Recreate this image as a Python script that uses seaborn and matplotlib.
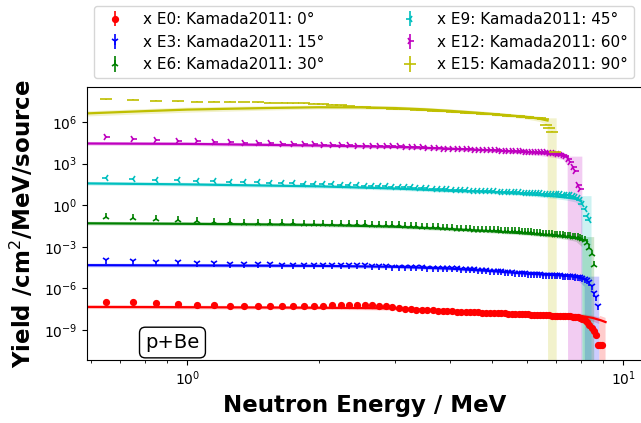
import numpy as np
import matplotlib
matplotlib.use("Agg")
import matplotlib.pyplot as plt
from matplotlib.ticker import NullLocator, NullFormatter
import seaborn as sns

# Kamada2011 p+Be measurement: energy bin centres (MeV), shared by all angles
E_EXP = [0.65, 0.75, 0.85, 0.95, 1.05, 1.15, 1.25, 1.35, 1.45, 1.55,
         1.65, 1.75, 1.85, 1.95, 2.05, 2.15, 2.25, 2.35, 2.45, 2.55,
         2.65, 2.75, 2.85, 2.95, 3.05, 3.15, 3.25, 3.35, 3.45, 3.55,
         3.65, 3.75, 3.85, 3.95, 4.05, 4.15, 4.25, 4.35, 4.45, 4.55,
         4.65, 4.75, 4.85, 4.95, 5.05, 5.15, 5.25, 5.35, 5.45, 5.55,
         5.65, 5.75, 5.85, 5.95, 6.05, 6.15, 6.25, 6.35, 6.45, 6.55,
         6.65, 6.75, 6.85, 6.95, 7.05, 7.15, 7.25, 7.35, 7.45, 7.55,
         7.65, 7.75, 7.85, 7.95, 8.05, 8.15, 8.25, 8.35, 8.45, 8.55,
         8.65, 8.75, 8.85, 8.95]

# log10 of the plotted yield (scale factor x E.. already applied)
EXP_0 = [-6.98, -6.97, -7.05, -7.12, -7.18, -7.22, -7.25, -7.27, -7.28, -7.28,
         -7.27, -7.26, -7.25, -7.24, -7.23, -7.22, -7.21, -7.20, -7.20, -7.20,
         -7.21, -7.23, -7.27, -7.33, -7.40, -7.46, -7.50, -7.52, -7.54, -7.56,
         -7.58, -7.60, -7.62, -7.64, -7.65, -7.67, -7.68, -7.70, -7.71, -7.72,
         -7.73, -7.74, -7.75, -7.76, -7.77, -7.78, -7.79, -7.80, -7.81, -7.82,
         -7.83, -7.84, -7.85, -7.86, -7.87, -7.88, -7.89, -7.90, -7.91, -7.92,
         -7.93, -7.94, -7.95, -7.96, -7.97, -7.98, -7.99, -8.00, -8.01, -8.02,
         -8.03, -8.05, -8.08, -8.13, -8.20, -8.30, -8.45, -8.63, -8.85, -9.10,
         -9.35, -10.05, -10.10, -10.05]
EXP_3 = [-3.96, -4.00, -4.07, -4.10, -4.15, -4.19, -4.22, -4.24, -4.26, -4.27,
         -4.28, -4.29, -4.30, -4.30, -4.31, -4.31, -4.32, -4.32, -4.33, -4.34,
         -4.36, -4.38, -4.40, -4.42, -4.44, -4.45, -4.46, -4.47, -4.48, -4.49,
         -4.50, -4.51, -4.52, -4.53, -4.54, -4.55, -4.57, -4.59, -4.61, -4.63,
         -4.65, -4.67, -4.69, -4.71, -4.73, -4.75, -4.77, -4.79, -4.81, -4.83,
         -4.85, -4.87, -4.89, -4.91, -4.93, -4.95, -4.97, -4.98, -4.99, -5.00,
         -5.01, -5.02, -5.03, -5.04, -5.05, -5.06, -5.07, -5.08, -5.09, -5.11,
         -5.13, -5.15, -5.17, -5.20, -5.25, -5.32, -5.40, -5.52, -5.85, -6.30,
         -6.60, -7.25]
EXP_6 = [-0.88, -0.92, -0.98, -1.05, -1.12, -1.18, -1.22, -1.25, -1.27, -1.29,
         -1.30, -1.31, -1.32, -1.33, -1.34, -1.35, -1.36, -1.37, -1.38, -1.39,
         -1.40, -1.41, -1.42, -1.44, -1.46, -1.48, -1.50, -1.52, -1.54, -1.56,
         -1.58, -1.60, -1.62, -1.64, -1.66, -1.68, -1.70, -1.72, -1.74, -1.76,
         -1.77, -1.78, -1.79, -1.80, -1.81, -1.82, -1.83, -1.84, -1.85, -1.86,
         -1.87, -1.88, -1.90, -1.92, -1.94, -1.96, -1.98, -2.00, -2.02, -2.04,
         -2.06, -2.08, -2.10, -2.12, -2.14, -2.16, -2.18, -2.20, -2.22, -2.24,
         -2.26, -2.29, -2.32, -2.36, -2.42, -2.52, -2.75, -3.10, -3.50, -4.30]
EXP_9 = [1.97, 1.88, 1.85, 1.80, 1.76, 1.73, 1.70, 1.67, 1.64, 1.62,
         1.60, 1.58, 1.56, 1.54, 1.52, 1.50, 1.48, 1.46, 1.44, 1.42,
         1.40, 1.38, 1.36, 1.34, 1.32, 1.30, 1.28, 1.26, 1.24, 1.22,
         1.20, 1.18, 1.16, 1.14, 1.12, 1.10, 1.08, 1.06, 1.05, 1.04,
         1.03, 1.02, 1.01, 1.00, 0.99, 0.98, 0.97, 0.96, 0.95, 0.94,
         0.93, 0.92, 0.91, 0.90, 0.89, 0.88, 0.87, 0.86, 0.85, 0.84,
         0.83, 0.82, 0.81, 0.80, 0.79, 0.78, 0.76, 0.74, 0.72, 0.70,
         0.66, 0.60, 0.50, 0.40, 0.10, -0.30, -0.80, -1.10]
EXP_12 = [4.88, 4.75, 4.68, 4.62, 4.60, 4.56, 4.53, 4.50, 4.48, 4.46,
          4.44, 4.42, 4.40, 4.38, 4.36, 4.34, 4.32, 4.31, 4.30, 4.29,
          4.28, 4.27, 4.26, 4.25, 4.24, 4.22, 4.20, 4.18, 4.16, 4.14,
          4.12, 4.10, 4.08, 4.07, 4.06, 4.05, 4.04, 4.03, 4.02, 4.01,
          4.00, 3.99, 3.98, 3.97, 3.96, 3.95, 3.94, 3.93, 3.92, 3.91,
          3.90, 3.89, 3.88, 3.87, 3.86, 3.85, 3.84, 3.83, 3.82, 3.81,
          3.80, 3.79, 3.77, 3.75, 3.72, 3.68, 3.62, 3.55, 3.30, 3.10,
          2.75, 2.45, 1.45, 1.20]
EXP_15 = [7.63, 7.60, 7.52, 7.49, 7.47, 7.46, 7.45, 7.44, 7.42, 7.40,
          7.38, 7.36, 7.33, 7.30, 7.27, 7.23, 7.19, 7.15, 7.11, 7.07,
          7.04, 7.01, 6.98, 6.96, 6.94, 6.92, 6.90, 6.88, 6.86, 6.84,
          6.82, 6.80, 6.78, 6.76, 6.74, 6.72, 6.70, 6.68, 6.66, 6.64,
          6.62, 6.60, 6.58, 6.56, 6.54, 6.52, 6.50, 6.48, 6.46, 6.44,
          6.42, 6.40, 6.38, 6.36, 6.34, 6.32, 6.30, 6.28, 6.25, 6.22,
          5.81, 5.57, 5.28, 3.84]
EXP_REL_ERR = 0.08

# simulation: energies, log10 yield (scaled), relative uncertainty, last energy with a line
SIM_E_0 = [0.55, 0.8, 1.0, 1.5, 2.0, 2.5, 3.0, 3.5, 4.0, 5.0, 6.0, 7.0, 7.5, 8.0, 8.5, 8.8, 8.85, 9.1]
SIM_Y_0 = [-7.33, -7.34, -7.35, -7.37, -7.39, -7.41, -7.44, -7.53, -7.63, -7.76, -7.84, -7.90,
           -7.93, -7.98, -8.12, -8.26, -8.28, -8.42]
SIM_R_0 = [0.3, 0.3, 0.3, 0.3, 0.3, 0.3, 0.3, 0.3, 0.3, 0.3, 0.3, 0.3, 0.35, 0.4, 0.45, 0.5, 1.0, 1.0]
SIM_END_0 = 9.1

SIM_E_3 = [0.55, 1.0, 2.0, 3.0, 4.0, 5.0, 6.0, 7.0, 7.5, 7.9, 8.15, 8.2, 8.8]
SIM_Y_3 = [-4.32, -4.34, -4.37, -4.44, -4.57, -4.75, -4.93, -5.04, -5.10, -5.22, -5.35, -5.45, -5.45]
SIM_R_3 = [0.3, 0.3, 0.3, 0.3, 0.3, 0.3, 0.3, 0.35, 0.4, 0.45, 0.7, 1.0, 1.0]
SIM_END_3 = 8.15

SIM_E_6 = [0.55, 1.0, 2.0, 3.0, 4.0, 5.0, 6.0, 7.0, 7.5, 7.8, 8.05, 8.1, 8.57]
SIM_Y_6 = [-1.30, -1.34, -1.42, -1.55, -1.72, -1.88, -2.04, -2.20, -2.30, -2.38, -2.50, -2.60, -2.60]
SIM_R_6 = [0.3, 0.3, 0.3, 0.3, 0.3, 0.3, 0.3, 0.35, 0.4, 0.45, 0.7, 1.0, 1.0]
SIM_END_6 = 8.05

SIM_E_9 = [0.55, 1.0, 2.0, 3.0, 4.0, 5.0, 6.0, 7.0, 7.5, 7.8, 8.0, 8.05, 8.45]
SIM_Y_9 = [1.58, 1.50, 1.36, 1.20, 1.04, 0.95, 0.80, 0.63, 0.53, 0.45, 0.30, 0.35, 0.35]
SIM_R_9 = [0.3, 0.3, 0.3, 0.3, 0.3, 0.3, 0.3, 0.35, 0.4, 0.45, 0.7, 1.0, 1.0]
SIM_END_9 = 8.0

SIM_E_12 = [0.55, 1.0, 2.0, 3.0, 4.0, 5.0, 6.0, 6.5, 7.0, 7.3, 7.45, 7.5, 8.05]
SIM_Y_12 = [4.45, 4.42, 4.30, 4.20, 4.07, 3.95, 3.82, 3.75, 3.65, 3.55, 3.45, 3.20, 3.20]
SIM_R_12 = [0.3, 0.3, 0.3, 0.3, 0.3, 0.3, 0.35, 0.4, 0.45, 0.5, 0.75, 1.0, 1.0]
SIM_END_12 = 7.45

SIM_E_15 = [0.55, 0.8, 1.0, 1.5, 2.0, 2.5, 3.0, 3.5, 4.0, 4.5, 5.0, 5.5, 6.0, 6.4, 6.7, 6.75, 7.03]
SIM_Y_15 = [6.58, 6.78, 6.89, 7.00, 7.06, 7.05, 7.00, 6.91, 6.80, 6.69, 6.58, 6.47, 6.36, 6.24,
            6.10, 5.96, 5.96]
SIM_R_15 = [0.4, 0.4, 0.4, 0.35, 0.3, 0.3, 0.3, 0.3, 0.3, 0.3, 0.3, 0.3, 0.35, 0.4, 0.5, 1.0, 1.0]
SIM_END_15 = 6.7

LABELS = ["x E0: Kamada2011: 0°", "x E3: Kamada2011: 15°", "x E6: Kamada2011: 30°",
          "x E9: Kamada2011: 45°", "x E12: Kamada2011: 60°", "x E15: Kamada2011: 90°"]
COLORS = ["r", "b", "g", "c", "m", "y"]
MARKERS = ["o", "1", "2", "3", "4", "_"]
MSIZES = [4, 6, 6, 6, 6, 8]

series = [
    (EXP_0, SIM_E_0, SIM_Y_0, SIM_R_0, SIM_END_0),
    (EXP_3, SIM_E_3, SIM_Y_3, SIM_R_3, SIM_END_3),
    (EXP_6, SIM_E_6, SIM_Y_6, SIM_R_6, SIM_END_6),
    (EXP_9, SIM_E_9, SIM_Y_9, SIM_R_9, SIM_END_9),
    (EXP_12, SIM_E_12, SIM_Y_12, SIM_R_12, SIM_END_12),
    (EXP_15, SIM_E_15, SIM_Y_15, SIM_R_15, SIM_END_15),
]

fig = plt.figure(figsize=(6.41, 4.23), dpi=100)
ax = fig.add_axes([87 / 641, 63 / 423, 555 / 641, 273 / 423])
ax.set_xscale("log")
ax.set_yscale("log")

handles = []
for i, (exp_log, sim_e, sim_log, sim_rel, sim_end) in enumerate(series):
    color = COLORS[i]
    se = np.array(sim_e)
    sy = 10.0 ** np.array(sim_log)
    rel = np.array(sim_rel)
    lower = np.clip(sy * (1 - rel), 1e-40, None)
    upper = sy * (1 + rel)
    ax.fill_between(se, lower, upper, color=color, alpha=0.2, lw=0, zorder=1)

    keep = se <= sim_end + 1e-9
    sns.lineplot(x=se[keep], y=sy[keep], color=color, lw=1.6, ax=ax,
                 zorder=2, legend=False, estimator=None)

    ex = np.array(E_EXP[:len(exp_log)])
    ey = 10.0 ** np.array(exp_log)
    h = ax.errorbar(ex, ey, yerr=EXP_REL_ERR * ey, fmt=MARKERS[i], color=color,
                    ms=MSIZES[i], mew=1.2, elinewidth=1.2, zorder=3, label=LABELS[i])
    handles.append(h)

ax.set_xlim(0.589, 11.03)
ax.set_ylim(7e-12, 3.3e8)
ax.set_yticks([1e-9, 1e-6, 1e-3, 1e0, 1e3, 1e6])
ax.yaxis.set_minor_locator(NullLocator())
ax.xaxis.set_minor_formatter(NullFormatter())
ax.tick_params(labelsize=10)

ax.set_xlabel("Neutron Energy / MeV", fontsize=16.5, fontweight="bold")
ax.set_ylabel("Yield /cm$^2$/MeV/source", fontsize=16.5, fontweight="bold", labelpad=6)

ax.text(0.154, 0.064, "p+Be", transform=ax.transAxes, ha="center", va="center",
        fontsize=14, bbox=dict(boxstyle="round", fc="white", ec="black"))

fig.legend(handles=handles, loc="upper left",
           bbox_to_anchor=(94 / 641, 1 - 6 / 423),
           bbox_transform=fig.transFigure, ncol=2, fontsize=11,
           labelspacing=0.5, columnspacing=4.6, borderaxespad=0)

fig.savefig("out.png", dpi=100)
